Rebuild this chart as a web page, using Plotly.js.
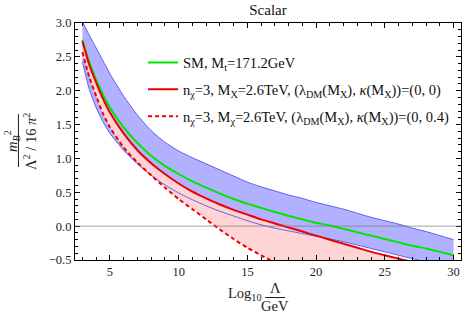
<!DOCTYPE html>
<html><head><meta charset="utf-8">
<script src="https://cdn.plot.ly/plotly-3.0.1.min.js"></script>
<style>html,body{margin:0;padding:0;background:#fff}</style>
</head><body><div id="chart" style="width:463px;height:315px"></div>
<script>
// log10(Lambda/GeV)
const logLambda = [3,3.5,4,4.5,5,6,7,8,9,10,11,12,13,14,15,16,17,18,19,20,21,22,23,24,25,26,27,28,29,30];
// SM band (upper / lower edge)
const smUpper = [3.02,2.82,2.63,2.44,2.25,1.92,1.64,1.41,1.24,1.11,1.01,0.92,0.83,0.74,0.65,0.58,0.52,0.46,0.41,0.35,0.30,0.25,0.19,0.13,0.08,0.03,-0.03,-0.08,-0.14,-0.20];
const smLower = [2.43,2.02,1.75,1.54,1.37,1.12,0.92,0.75,0.61,0.49,0.39,0.30,0.22,0.15,0.08,0.02,-0.03,-0.07,-0.11,-0.15,-0.19,-0.23,-0.28,-0.33,-0.38,-0.43,-0.48,-0.53,-0.58,-0.63];
// SM, Mt=171.2GeV
const smCentral = [2.75,2.42,2.16,1.94,1.75,1.46,1.23,1.04,0.89,0.77,0.66,0.57,0.48,0.40,0.33,0.27,0.21,0.15,0.10,0.05,0.01,-0.04,-0.09,-0.14,-0.19,-0.24,-0.29,-0.33,-0.38,-0.43];
// n_chi=3, kappa=0
const dmKappa0 = [2.73,2.38,2.12,1.88,1.68,1.37,1.12,0.93,0.77,0.63,0.51,0.41,0.32,0.24,0.17,0.10,0.04,-0.02,-0.08,-0.14,-0.20,-0.26,-0.32,-0.38,-0.43,-0.48,-0.53];
// n_chi=3, kappa=0.4
const dmKappa04 = [2.57,2.20,1.92,1.66,1.46,1.16,0.94,0.75,0.57,0.40,0.25,0.10,-0.05,-0.19,-0.32,-0.43,-0.54];

const labels = [
  'SM, M<sub>t</sub>=171.2GeV',
  'n<sub>χ</sub>=3, M<sub>X</sub>=2.6TeV, (λ<sub>DM</sub>(M<sub>X</sub>), <i>κ</i>(M<sub>X</sub>))=(0, 0)',
  'n<sub>χ</sub>=3, M<sub>χ</sub>=2.6TeV, (λ<sub>DM</sub>(M<sub>X</sub>), <i>κ</i>(M<sub>X</sub>))=(0, 0.4)'
];

const xK0 = logLambda.slice(0, dmKappa0.length);
const xK04 = logLambda.slice(0, dmKappa04.length);
const sp = {shape:'spline', smoothing:0.6};
const blueEdge = 'rgb(80,80,235)';

const traces = [
  {x:logLambda, y:smUpper, mode:'lines', line:Object.assign({width:0}, sp), showlegend:false, hoverinfo:'skip'},
  {x:logLambda, y:smLower, mode:'lines', fill:'tonexty', fillcolor:'rgba(60,60,255,0.40)', line:Object.assign({width:0}, sp), showlegend:false, hoverinfo:'skip'},
  {x:xK04, y:dmKappa04, mode:'lines', line:Object.assign({width:0}, sp), showlegend:false, hoverinfo:'skip'},
  {x:xK0, y:dmKappa0, mode:'lines', fill:'tonexty', fillcolor:'rgb(255,212,212)', line:Object.assign({width:0}, sp), showlegend:false, hoverinfo:'skip'},
  {x:logLambda, y:smUpper, mode:'lines', line:Object.assign({width:0.9, color:blueEdge}, sp), showlegend:false},
  {x:logLambda, y:smLower, mode:'lines', line:Object.assign({width:0.9, color:blueEdge}, sp), showlegend:false},
  {x:logLambda, y:smCentral, mode:'lines', name:labels[0], legendgroup:'a', line:Object.assign({width:2, color:'rgb(0,230,0)'}, sp)},
  {x:xK0, y:dmKappa0, mode:'lines', name:labels[1], legendgroup:'b', line:Object.assign({width:2, color:'rgb(235,0,0)'}, sp)},
  {x:xK04, y:dmKappa04, mode:'lines', name:labels[2], legendgroup:'c', line:Object.assign({width:2, color:'rgb(235,0,0)', dash:'4px,3px'}, sp)}
];

const L=75, T=23, W=385.7, H=237;
const xp = px => (px - L)/W;
const yp = py => (T + H - py)/H;
const SERIF = 'Liberation Serif';

const axisCommon = {
  showgrid:false, zeroline:false, showline:true, linecolor:'#000', linewidth:1.2,
  mirror:'allticks', ticks:'inside', ticklen:5, tickcolor:'#000', tickwidth:1,
  tickfont:{family:SERIF, size:12.5, color:'#222'}
};

const layout = {
  width:463, height:315,
  margin:{l:L, r:2, t:T, b:315-T-H},
  paper_bgcolor:'#fff', plot_bgcolor:'#fff',
  font:{family:SERIF, size:13, color:'#222'},
  title:{text:'Scalar', x:0.5, xref:'paper', xanchor:'center', y:1-10/315, yref:'container', yanchor:'middle', font:{family:SERIF, size:15, color:'#111'}},
  xaxis:Object.assign({}, axisCommon, {range:[2.46,30.54], tick0:0, dtick:5,
    minor:{ticks:'inside', ticklen:3, tick0:0, dtick:1, tickcolor:'#000', showgrid:false}}),
  yaxis:Object.assign({}, axisCommon, {range:[-0.5,3.0], tick0:0, dtick:0.5, tickformat:'.1f',
    minor:{ticks:'inside', ticklen:3, tick0:0, dtick:0.1, tickcolor:'#000', showgrid:false}}),
  showlegend:true,
  legend:{x:xp(143), xanchor:'left', y:yp(46.5), yanchor:'top', bgcolor:'rgba(0,0,0,0)',
    font:{family:SERIF, size:14.5, color:'#111'}, traceorder:'grouped', tracegroupgap:5, itemwidth:30},
  shapes:[
    {type:'line', xref:'paper', x0:0, x1:1, yref:'y', y0:0, y1:0, line:{color:'rgba(120,120,120,0.7)', width:1}, layer:'above'},
    {type:'line', xref:'paper', yref:'paper', x0:xp(265), x1:xp(285), y0:yp(297.5), y1:yp(297.5), line:{color:'#222', width:1}},
    {type:'line', xref:'paper', yref:'paper', x0:xp(18.5), x1:xp(18.5), y0:yp(114), y1:yp(167), line:{color:'#222', width:1}}
  ],
  annotations:[
    {xref:'paper', yref:'paper', x:xp(263), y:yp(294), xanchor:'right', yanchor:'middle', showarrow:false, text:'Log<sub>10</sub>', font:{family:SERIF, size:14.5, color:'#222'}},
    {xref:'paper', yref:'paper', x:xp(275), y:yp(288), xanchor:'center', yanchor:'middle', showarrow:false, text:'Λ', font:{family:SERIF, size:14.5, color:'#222'}},
    {xref:'paper', yref:'paper', x:xp(275), y:yp(305.5), xanchor:'center', yanchor:'middle', showarrow:false, text:'GeV', font:{family:SERIF, size:14.5, color:'#222'}},
    {xref:'paper', yref:'paper', x:xp(12), y:yp(141), xanchor:'center', yanchor:'middle', textangle:-90, showarrow:false, text:'<i>m<sub>B</sub></i><sup>2</sup>', font:{family:SERIF, size:14.5, color:'#222'}},
    {xref:'paper', yref:'paper', x:xp(30), y:yp(141), xanchor:'center', yanchor:'middle', textangle:-90, showarrow:false, text:'Λ<sup>2</sup> / 16 <i>π</i><sup>2</sup>', font:{family:SERIF, size:14.5, color:'#222'}}
  ]
};

Plotly.newPlot('chart', traces, layout, {displayModeBar:false});
</script>
</body></html>
